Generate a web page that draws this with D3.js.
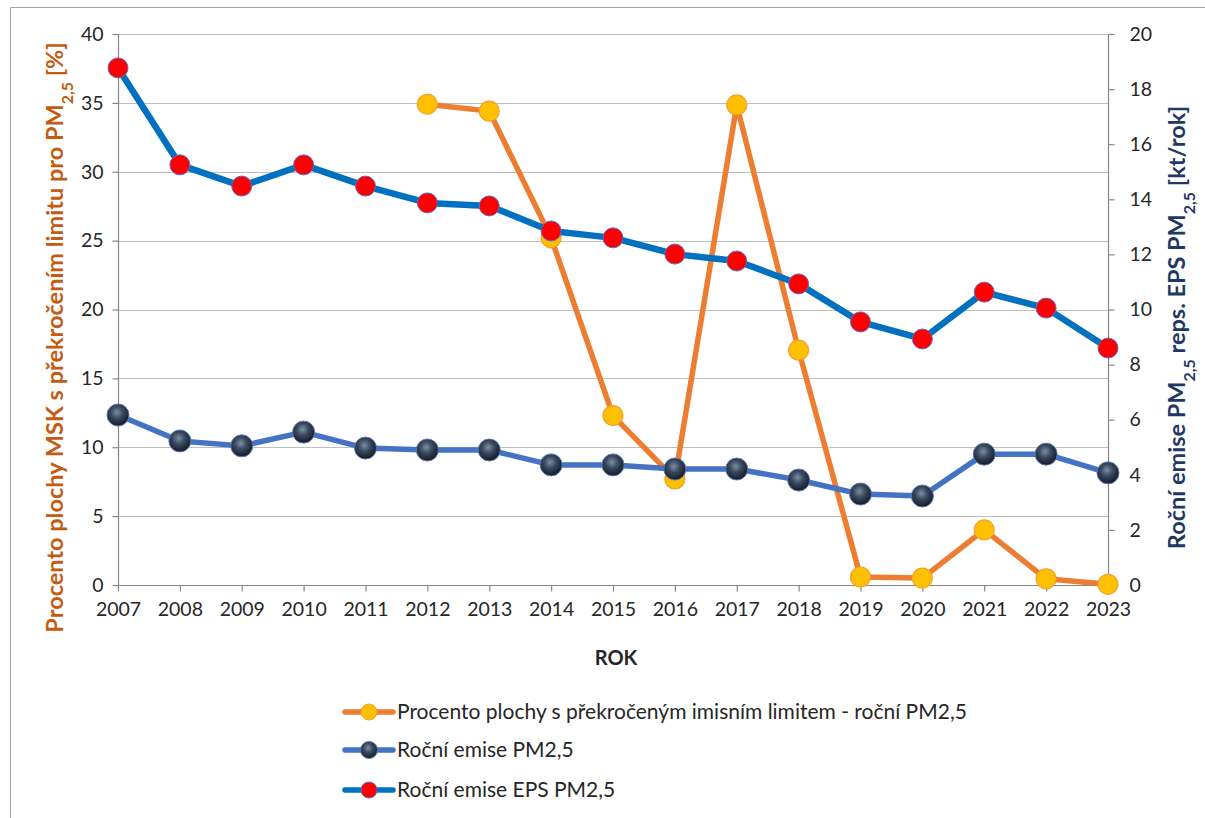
<!DOCTYPE html>
<html>
<head>
<meta charset="utf-8">
<script src="https://cdn.jsdelivr.net/npm/d3@7"></script>
<style>
  html, body { margin: 0; padding: 0; background: #fff; }
  svg { display: block; font-family: Lato, "Open Sans", "Liberation Sans", sans-serif; }
</style>
</head>
<body>
<svg id="chart" width="1205" height="818"></svg>
<script>
// Years on the category axis
const years = [2007, 2008, 2009, 2010, 2011, 2012, 2013, 2014, 2015, 2016, 2017, 2018, 2019, 2020, 2021, 2022, 2023];

// Share of the region's area above the annual PM2,5 limit [%] (left axis); no data before 2012
const areaShare = [null, null, null, null, null, 34.9, 34.4, 25.2, 12.3, 7.7, 34.85, 17.05, 0.58, 0.5, 4.0, 0.45, 0.05];

// Annual PM2,5 emissions [kt/yr] (right axis)
const emisePM = [6.17, 5.23, 5.05, 5.55, 4.97, 4.9, 4.9, 4.36, 4.36, 4.21, 4.21, 3.81, 3.3, 3.23, 4.75, 4.75, 4.07];

// Annual PM2,5 emissions from EPS [kt/yr] (right axis)
const emiseEPS = [18.77, 15.25, 14.48, 15.25, 14.48, 13.87, 13.76, 12.85, 12.6, 12.01, 11.76, 10.93, 9.55, 8.93, 10.63, 10.05, 8.6];

const leftTicks = [0, 5, 10, 15, 20, 25, 30, 35, 40];
const rightTicks = [0, 2, 4, 6, 8, 10, 12, 14, 16, 18, 20];

const legendLabels = [
  "Procento plochy s překročeným imisním limitem - roční PM2,5",
  "Roční emise PM2,5",
  "Roční emise EPS PM2,5"
];

const svg = d3.select("#chart");
const plot = { left: 118, right: 1108, top: 34, bottom: 585 };

const x = d3.scalePoint().domain(years).range([plot.left, plot.right]);
const yL = d3.scaleLinear().domain([0, 40]).range([plot.bottom, plot.top]);
const yR = d3.scaleLinear().domain([0, 20]).range([plot.bottom, plot.top]);

// Gradient for the dark spherical markers
const defs = svg.append("defs");
const grad = defs.append("radialGradient").attr("id", "ball")
  .attr("cx", "45%").attr("cy", "38%").attr("r", "60%");
grad.append("stop").attr("offset", "0%").attr("stop-color", "#7d8ea6");
grad.append("stop").attr("offset", "45%").attr("stop-color", "#3a4a60");
grad.append("stop").attr("offset", "100%").attr("stop-color", "#151c28");

// Chart frame
svg.append("path")
  .attr("d", "M10.5,830 L10.5,7.5 L1220,7.5")
  .attr("fill", "none").attr("stroke", "#a6a6a6").attr("stroke-width", 1);

// Horizontal gridlines at left axis ticks
svg.append("g").selectAll("line").data(leftTicks.filter(d => d > 0)).join("line")
  .attr("x1", plot.left).attr("x2", plot.right)
  .attr("y1", d => Math.round(yL(d)) + 0.5).attr("y2", d => Math.round(yL(d)) + 0.5)
  .attr("stroke", "#bfbfbf").attr("stroke-width", 1.2);

const tickFont = 19.5;

// Left axis
const gL = svg.append("g").attr("transform", `translate(${plot.left + 0.5},0)`)
  .call(d3.axisLeft(yL).tickValues(leftTicks).tickSize(6).tickPadding(9));
// Right axis
const gR = svg.append("g").attr("transform", `translate(${plot.right + 0.5},0)`)
  .call(d3.axisRight(yR).tickValues(rightTicks).tickSize(6).tickPadding(15));
// Bottom axis
const gB = svg.append("g").attr("transform", `translate(0,${plot.bottom + 0.5})`)
  .call(d3.axisBottom(x).tickSize(6).tickPadding(11).tickFormat(d3.format("d")));

[gL, gR, gB].forEach(g => {
  g.select(".domain").attr("stroke", "#868686").attr("stroke-width", 1.2);
  g.selectAll(".tick line").attr("stroke", "#868686").attr("stroke-width", 1.2);
  g.selectAll(".tick text").attr("fill", "#262626").attr("font-size", tickFont)
    .attr("font-family", "Lato, 'Open Sans', sans-serif");
});
gB.select(".domain").attr("d", `M${plot.left},0H${plot.right}`);
gL.select(".domain").attr("d", `M0,${plot.top}V${plot.bottom}`);
gR.select(".domain").attr("d", `M0,${plot.top}V${plot.bottom}`);

// Series lines and markers
const lineL = d3.line().defined(d => d[1] != null).x(d => x(d[0])).y(d => yL(d[1]));
const lineR = d3.line().x(d => x(d[0])).y(d => yR(d[1]));

const shareData = years.map((yr, i) => [yr, areaShare[i]]);
const pmData = years.map((yr, i) => [yr, emisePM[i]]);
const epsData = years.map((yr, i) => [yr, emiseEPS[i]]);

// Orange series
svg.append("path").datum(shareData).attr("d", lineL)
  .attr("fill", "none").attr("stroke", "#ED7D31").attr("stroke-width", 5.5)
  .attr("stroke-linejoin", "round");
svg.append("g").selectAll("circle").data(shareData.filter(d => d[1] != null)).join("circle")
  .attr("cx", d => x(d[0])).attr("cy", d => yL(d[1])).attr("r", 10)
  .attr("fill", "#FFC000").attr("stroke", "#F0A030").attr("stroke-width", 1.2);

// Dark-blue series
svg.append("path").datum(pmData).attr("d", lineR)
  .attr("fill", "none").attr("stroke", "#4472C4").attr("stroke-width", 5.5)
  .attr("stroke-linejoin", "round");
svg.append("g").selectAll("circle").data(pmData).join("circle")
  .attr("cx", d => x(d[0])).attr("cy", d => yR(d[1])).attr("r", 11)
  .attr("fill", "url(#ball)").attr("stroke", "#5a78b0").attr("stroke-width", 1);

// EPS series
svg.append("path").datum(epsData).attr("d", lineR)
  .attr("fill", "none").attr("stroke", "#0070C0").attr("stroke-width", 6.5)
  .attr("stroke-linejoin", "round");
svg.append("g").selectAll("circle").data(epsData).join("circle")
  .attr("cx", d => x(d[0])).attr("cy", d => yR(d[1])).attr("r", 10)
  .attr("fill", "#FF0000").attr("stroke", "#5b6fc8").attr("stroke-width", 1);

// Axis titles
function subTitle(g, parts) {
  const t = g.append("text");
  parts.forEach(p => {
    const s = t.append("tspan").text(p.t);
    if (p.sub) s.attr("baseline-shift", "sub").attr("font-size", "68%");
  });
  return t;
}

const leftTitle = svg.append("g").attr("transform", `translate(63,${(plot.top + plot.bottom) / 2 + 28}) rotate(-90)`);
subTitle(leftTitle, [
  { t: "Procento plochy MSK s překročením limitu pro PM" },
  { t: "2,5", sub: true },
  { t: " [%]" }
]).attr("text-anchor", "middle").attr("fill", "#C55A11")
  .attr("font-size", 23.5).attr("font-weight", "bold");

const rightTitle = svg.append("g").attr("transform", `translate(1185,${(plot.top + plot.bottom) / 2 + 18}) rotate(-90)`);
subTitle(rightTitle, [
  { t: "Roční emise PM" },
  { t: "2,5", sub: true },
  { t: " reps. EPS PM" },
  { t: "2,5", sub: true },
  { t: " [kt/rok]" }
]).attr("text-anchor", "middle").attr("fill", "#1F3864")
  .attr("font-size", 23.5).attr("font-weight", "bold");

svg.append("text").attr("x", 616).attr("y", 665).attr("text-anchor", "middle")
  .attr("font-size", 20).attr("font-weight", "bold").attr("fill", "#262626").text("ROK");

// Legend
const legendRows = [
  { label: legendLabels[0], stroke: "#ED7D31", fill: "#FFC000", mstroke: "#F0A030", r: 8 },
  { label: legendLabels[1], stroke: "#4472C4", fill: "url(#ball)", mstroke: "#5a78b0", r: 8.5 },
  { label: legendLabels[2], stroke: "#0070C0", fill: "#FF0000", mstroke: "#5b6fc8", r: 8 }
];
const legendY = [712, 750, 790];
const lg = svg.append("g");
legendRows.forEach((row, i) => {
  const g = lg.append("g").attr("transform", `translate(0,${legendY[i]})`);
  g.append("line").attr("x1", 345).attr("x2", 393).attr("y1", 0).attr("y2", 0)
    .attr("stroke", row.stroke).attr("stroke-width", 5.5).attr("stroke-linecap", "round");
  g.append("circle").attr("cx", 369).attr("cy", 0).attr("r", row.r)
    .attr("fill", row.fill).attr("stroke", row.mstroke).attr("stroke-width", 1);
  g.append("text").attr("x", 397).attr("y", 0).attr("dy", "0.35em")
    .attr("font-size", 21).attr("fill", "#262626").text(row.label);
});
</script>
</body>
</html>
